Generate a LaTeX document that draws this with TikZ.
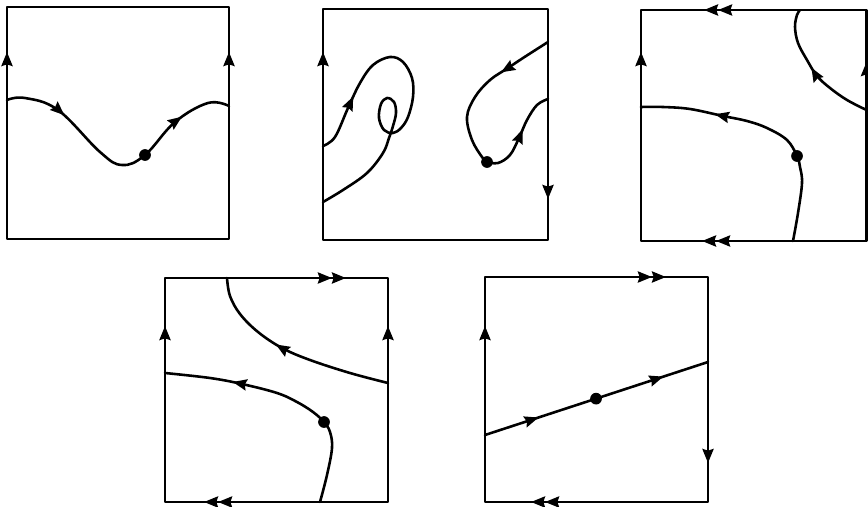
\documentclass[tikz,border=0pt]{standalone}
\usetikzlibrary{arrows.meta,decorations.markings,calc}
\tikzset{
  >={Stealth[length=12pt,width=9.5pt,inset=1.5pt]},
  ln/.style={line width=2.2pt, line join=round, line cap=round},
  edgetip/.style={ln, -{Stealth[length=12pt,width=9.5pt,inset=1.5pt]}},
  dbltip/.style={ln, -{Stealth[length=12pt,width=9.5pt,inset=1.5pt]Stealth[length=12pt,width=9.5pt,inset=1.5pt]}},
  midarrow/.style={postaction={decorate}, decoration={markings, mark=at position #1 with {\arrow{>}}}},
  twoarrows/.style 2 args={postaction={decorate}, decoration={markings, mark=at position #1 with {\arrow{>}}, mark=at position #2 with {\arrow{>}}}},
  dot/.style={circle, fill=black, inner sep=0pt, minimum size=10pt},
}
\begin{document}
\begin{tikzpicture}[x=0.03cm, y=-0.03cm]
\useasboundingbox (0,0) rectangle (868,507);

% ---------- Box 1 ----------
\draw[ln] (7,7) rectangle (229,239);
\draw[edgetip] (7,75) -- (7,52);
\draw[edgetip] (229,75) -- (229,52);
\draw[ln, twoarrows={0.23}{0.81}] plot[smooth, tension=0.65] coordinates {
  (7,100) (25,98) (58,110) (100,152) (122,165) (145,155) (175,122) (208,103) (229,106)};
\node[dot] (d1) at (145,155) {};

% ---------- Box 2 ----------
\draw[ln] (323,9) rectangle (548,240);
\draw[edgetip] (323,75) -- (323,52);
\draw[edgetip] (548,175) -- (548,199);
\draw[ln, midarrow=0.15] plot[smooth, tension=0.6] coordinates {
  (323,146) (335,137) (348,108) (360,83) (373,65) (390,57) (403,62) (412,78) (413,97) (408,117) (401,128) (393,133)
  (384,130) (379,118) (381,104) (387,98) (394,102) (396,113) (393,126) (389,138) (383,153) (367,173) (343,190) (323,202)};
\draw[ln, midarrow=0.34] plot[smooth, tension=0.6] coordinates {
  (548,42) (523,58) (508,68) (490,80) (475,97) (467,117) (472,140) (482,157) (487,162)};
\draw[ln, midarrow=0.57] plot[smooth, tension=0.6] coordinates {
  (487,162) (498,163) (510,155) (519,138) (527,120) (537,105) (548,99)};
\node[dot] (d2) at (487,162) {};

% ---------- Box 3 ----------
\draw[ln] (641,10) rectangle (866.5,241);
\draw[edgetip] (641,75) -- (641,52);
\draw[edgetip] (866.5,85) -- (866.5,62);
\draw[dbltip] (755,10) -- (704,10);
\draw[dbltip] (755,241) -- (702,241);
\draw[ln, midarrow=0.71] plot[smooth, tension=0.6] coordinates {
  (793,241) (798,213) (802,183) (800,167) (797,156) (787,140) (767,128) (747,121) (723,116) (690,109) (663,107) (641,107)};
\draw[ln, midarrow=0.53] plot[smooth, tension=0.6] coordinates {
  (866.5,110) (847,100) (830,88) (817,76) (807,60) (798,43) (795,27) (797,15) (800,10)};
\node[dot] (d3) at (797,156) {};

% ---------- Box 4 ----------
\draw[ln] (165,278) rectangle (388,502);
\draw[edgetip] (165,350) -- (165,326);
\draw[edgetip] (388,350) -- (388,326);
\draw[dbltip] (295,278) -- (346,278);
\draw[dbltip] (255,502) -- (204,502);
\draw[ln, midarrow=0.58] plot[smooth, tension=0.6] coordinates {
  (388,383) (350,373) (310,360) (282,348) (258,332) (240,314) (230,296) (227,278)};
\draw[ln, midarrow=0.73] plot[smooth, tension=0.6] coordinates {
  (320,502) (327,475) (332,448) (330,432) (324,422) (313,412) (297,402) (277,393) (242,384) (210,378) (165,373)};
\node[dot] (d4) at (324,422) {};

% ---------- Box 5 ----------
\draw[ln] (485,277) rectangle (708,502);
\draw[edgetip] (485,350) -- (485,326);
\draw[edgetip] (708,438) -- (708,463);
\draw[dbltip] (615,277) -- (666,277);
\draw[dbltip] (580,502) -- (531,502);
\coordinate (l5a) at (485,435);
\coordinate (l5b) at (708,362);
\draw[ln, twoarrows={0.24}{0.80}] (l5a) -- (l5b);
\node[dot] (d5) at ($(l5a)!0.498!(l5b)$) {};
\end{tikzpicture}
\end{document}
